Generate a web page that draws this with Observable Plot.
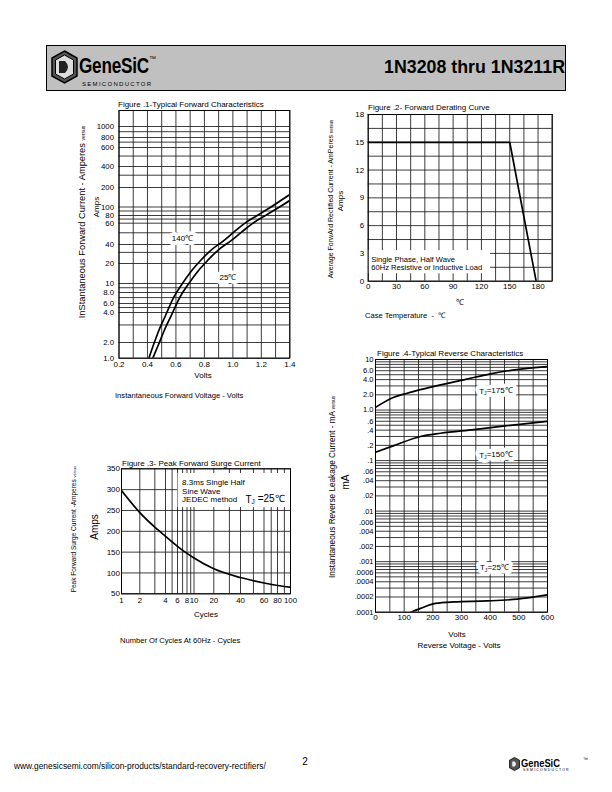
<!DOCTYPE html>
<html><head><meta charset="utf-8">
<script src="https://cdn.jsdelivr.net/npm/d3@7"></script>
<script src="https://cdn.jsdelivr.net/npm/@observablehq/plot@0.6"></script>
<style>
body{margin:0;background:#fff;font-family:"Liberation Sans",Arial,sans-serif;color:#000}
#page{position:relative;width:612px;height:792px;overflow:hidden}
.t{position:absolute;white-space:nowrap;line-height:1;transform:translateY(-50%)}
.c{position:absolute;white-space:nowrap;line-height:1;transform:translate(-50%,-50%)}
.r{position:absolute;white-space:nowrap;line-height:1;transform:translate(-50%,-50%) rotate(-90deg)}
</style></head>
<body><div id="page">
  <div style="position:absolute;left:46px;top:45px;width:518px;height:44px;background:#c0c0c0;border:1.5px solid #000"></div>
  <svg style="position:absolute;left:51px;top:50px" width="27" height="34" viewBox="0 0 27 34">
    <polygon points="13.5,1 26,8 26,26 13.5,33 1,26 1,8" fill="#555" stroke="#000" stroke-width="1.5"/>
    <polygon points="13.5,5 22.5,10 22.5,24 13.5,29 4.5,24 4.5,10" fill="#ddd" stroke="#000" stroke-width="1"/>
    <path d="M8,11 L14,11 Q20,17 14,23 L8,23 Z" fill="#222"/>
  </svg>
  <div class="t" style="left:79px;top:66px;font-weight:bold;font-size:22px;transform:translateY(-50%) scaleX(0.78);transform-origin:left center;letter-spacing:-0.3px">GeneSiC</div>
  <div class="t" style="left:149px;top:58px;font-size:7px">™</div>
  <div class="t" style="left:82px;top:84px;font-size:6px;letter-spacing:1.3px">SEMICONDUCTOR</div>
  <div class="t" style="right:47px;top:68px;font-weight:bold;font-size:17.8px">1N3208 thru 1N3211R</div>

  <div class="t" style="left:118px;top:105px;font-size:8px">Figure .1-Typical Forward Characteristics</div>
  <div class="r" style="left:83px;top:222px;font-size:9.3px">InStantaneous Forward Current - Amperes <span style="font-size:5px">versus</span></div>
  <div class="r" style="left:96.5px;top:207px;font-size:8px">Amps</div>
  <div class="c" style="left:203px;top:376px;font-size:8px">Volts</div>
  <div class="t" style="left:115px;top:396px;font-size:7.6px">Instantaneous Forward Voltage - Volts</div>

  <div class="t" style="left:368px;top:108px;font-size:8px">Figure .2- Forward Derating Curve</div>
  <div class="r" style="left:331px;top:199px;font-size:7px">Average ForwArd Rectified Current - AmPeres <span style="font-size:4.5px">versus</span></div>
  <div class="r" style="left:341px;top:201px;font-size:8px">Amps</div>
  <div class="c" style="left:460px;top:303px;font-size:8px">℃</div>
  <div class="t" style="left:365px;top:316px;font-size:7.6px">Case Temperature&nbsp; -&nbsp; ℃</div>

  <div class="t" style="left:122px;top:464px;font-size:8px">Figure .3- Peak Forward Surge Current</div>
  <div class="r" style="left:74px;top:529px;font-size:6.5px">Peak Forward Surge Current -Amperes <span style="font-size:4px">versus</span></div>
  <div class="r" style="left:95px;top:527px;font-size:10px">Amps</div>
  <div class="c" style="left:206px;top:615px;font-size:8px">Cycles</div>
  <div class="t" style="left:120px;top:641px;font-size:7.6px">Number Of Cycles At 60Hz - Cycles</div>

  <div class="t" style="left:377px;top:354px;font-size:8px">Figure .4-Typical Reverse Characteristics</div>
  <div class="r" style="left:333px;top:487px;font-size:8.2px">Instantaneous Reverse Leakage Current - mA <span style="font-size:4.5px">versus</span></div>
  <div class="r" style="left:346px;top:482px;font-size:10px">mA</div>
  <div class="c" style="left:457px;top:635px;font-size:8px">Volts</div>
  <div class="c" style="left:459px;top:646px;font-size:8px">Reverse Voltage - Volts</div>

  <div class="t" style="left:14px;top:766px;font-size:8.4px">www.genesicsemi.com/silicon-products/standard-recovery-rectifiers/</div>
  <div class="c" style="left:305px;top:762px;font-size:10px">2</div>
  <svg style="position:absolute;left:509px;top:757px" width="11" height="14" viewBox="0 0 27 34">
    <polygon points="13.5,1 26,8 26,26 13.5,33 1,26 1,8" fill="#555" stroke="#000" stroke-width="2"/>
    <path d="M8,11 L14,11 Q20,17 14,23 L8,23 Z" fill="#eee"/>
  </svg>
  <div class="t" style="left:521px;top:763px;font-weight:bold;font-size:11px;transform:translateY(-50%) scaleX(0.85);transform-origin:left center">GeneSiC</div>
  <div class="t" style="left:583px;top:759px;font-size:5px">™</div>
  <div class="t" style="left:523px;top:771px;font-size:3.5px;letter-spacing:1.2px">SEMICONDUCTOR</div>
</div>
<script>
const FONT = "Liberation Sans, Arial, sans-serif";
const page = document.getElementById("page");

// ---------- Figure 1: Typical Forward Characteristics ----------
const fwdV140 = [0.41, 0.445, 0.48, 0.527, 0.585, 0.644, 0.702, 0.773, 0.843, 0.936, 1.007, 1.078, 1.171, 1.265, 1.40];
const fwdI140 = [1.0, 1.89, 2.64, 3.73, 7.07, 9.93, 14.8, 22.3, 32.1, 43.1, 50.6, 59.3, 80, 99.5, 156];
const fwdV25 = [0.4375, 0.48, 0.518, 0.567, 0.628, 0.689, 0.749, 0.822, 0.893, 0.988, 1.061, 1.134, 1.229, 1.325, 1.40];
const fwdI25 = [1.0, 1.89, 2.64, 3.73, 7.07, 9.93, 14.8, 22.3, 32.1, 43.1, 50.6, 59.3, 80, 99.5, 126];
const fig1VoltTicks = [0.2, 0.4, 0.6, 0.8, 1.0, 1.2, 1.4];
const fig1AmpTicks = [1, 2, 4, 6, 8, 10, 20, 40, 60, 80, 100, 200, 400, 600, 800, 1000];
const fig1AmpLabels = ["1.0", "2.0", "4.0", "6.0", "8.0", "10", "20", "40", "60", "80", "100", "200", "400", "600", "800", "1000"];
const fig1NoteText = ["140℃", "25℃"];
const fig1NoteV = [0.646, 0.966];
const fig1NoteI = [44.9, 12.4];

// ---------- Figure 2: Forward Derating Curve ----------
const derateTemp = [0, 150, 178];
const derateAmps = [15, 15, 0];
const fig2TempTicks = [0, 30, 60, 90, 120, 150, 180];
const fig2AmpTicks = [0, 3, 6, 9, 12, 15, 18];
const fig2NoteText = ["Single Phase, Half Wave\n60Hz Resistive or Inductive Load"];
const fig2NoteBox = {x1: 0, x2: 129.6, y1: 0.8, y2: 3.3};
const fig2NoteT = [3.2];
const fig2NoteA = [1.88];

// ---------- Figure 3: Peak Forward Surge Current ----------
const surgeCycles = [1, 2, 3, 4, 6, 8, 10, 20, 40, 60, 80, 100];
const surgeAmps = [298, 245, 210, 188, 164, 147, 136, 110, 89, 76, 70, 66];
const fig3CycleTicks = [1, 2, 4, 6, 8, 10, 20, 40, 60, 80, 100];
const fig3AmpTicks = [50, 100, 150, 200, 250, 300, 350];
const fig3NoteText = ["8.3ms Single Half", "Sine Wave", "JEDEC method"];
const fig3NoteC = [6.9, 6.9, 6.9];
const fig3NoteA = [317, 296, 275.6];
const fig3TjText = ["TJ =25℃"];
const fig3TjC = [43.6];
const fig3TjA = [276];
const fig3NoteBox = {x1: 6.1, x2: 100, y1: 257, y2: 338.7};

// ---------- Figure 4: Typical Reverse Characteristics ----------
const revV175 = [0, 64, 110, 169, 227, 308, 401, 494, 600];
const revI175 = [1.13, 1.79, 2.15, 2.63, 3.15, 3.96, 5.2, 6.34, 7.27];
const revV150 = [0, 64, 157, 227, 343, 459, 600];
const revI150 = [0.146, 0.198, 0.30, 0.347, 0.41, 0.49, 0.6];
const revV25 = [124, 157, 209, 273, 390, 494, 600];
const revI25 = [0.0001, 0.000119, 0.000149, 0.00016, 0.000167, 0.000181, 0.00022];
const fig4VoltTicks = [0, 100, 200, 300, 400, 500, 600];
const fig4AmpTicks = [10, 6, 4, 2, 1, 0.6, 0.4, 0.2, 0.1, 0.06, 0.04, 0.02, 0.01, 0.006, 0.004, 0.002, 0.001, 0.0006, 0.0004, 0.0002, 0.0001];
const fig4AmpLabels = ["10", "6.0", "4.0", "2.0", "1.0", ".6", ".4", ".2", ".1", ".06", ".04", ".02", ".01", ".006", ".004", ".002", ".001", ".0006", ".0004", ".0002", ".0001"];
const fig4NoteText = ["TJ=175℃", "TJ=150℃", "TJ=25℃"];
const fig4NoteV = [420, 420, 415];
const fig4NoteI = [2.33, 0.126, 0.000755];

// helpers
const pts = (xs, ys) => xs.map((x, i) => ({x, y: ys[i]}));
const logGrid = (lo, hi) => { const out = []; for (let b = lo; b < hi * 0.999; b *= 10) for (let k = 1; k < 10; k++) out.push(k * b); out.push(hi); return out; };
const GRID = {stroke: "#1a1a1a", strokeWidth: 0.85};
const LINE = {x: "x", y: "y", stroke: "#000", strokeWidth: 1.7, curve: "monotone-x", clip: true};
const style = {fontFamily: FONT, fontSize: "8px", color: "#000", background: "transparent", overflow: "visible"};
const haloText = (data, opts) => [
  Plot.text(data, {...opts, fill: "#fff", stroke: "#fff", strokeWidth: 8}),
  Plot.text(data, {...opts, fill: "#000"})
];
function mount(svg, left, top) {
  const d = document.createElement("div");
  d.style.cssText = `position:absolute;left:${left}px;top:${top}px`;
  d.append(svg); page.append(d);
  d3.select(svg).selectAll("text").each(function () {
    const t = this.textContent;
    if (this.childElementCount === 0 && t.startsWith("TJ")) {
      const s = d3.select(this); s.text(null);
      s.append("tspan").text("T");
      s.append("tspan").attr("font-size", "0.65em").attr("dy", "0.25em").text("J");
      s.append("tspan").attr("dy", "-0.25em").text(t.slice(2));
    }
  });
}

// Figure 1 (the printed current axis is unevenly spaced: piecewise log scale through its labelled values)
mount(Plot.plot({
  width: 240, height: 290, marginLeft: 58.5, marginRight: 10.7, marginTop: 15, marginBottom: 27.3, style,
  x: {domain: [0.2, 1.4], axis: null},
  y: {type: "log", domain: fig1AmpTicks.concat([1500]),
      range: [262.7, 247, 217, 208, 197, 188, 168, 149, 127.7, 120, 111.5, 92, 71, 52, 42, 31, 15], axis: null},
  marks: [
    Plot.ruleX(d3.range(2, 15).map(k => k / 10), GRID),
    Plot.ruleY(logGrid(1, 1000), GRID),
    Plot.line(pts(fwdV140, fwdI140), LINE),
    Plot.line(pts(fwdV25, fwdI25), LINE),
    ...haloText(pts(fig1NoteV, fig1NoteI), {x: "x", y: "y", text: (d, i) => fig1NoteText[i], fontSize: 8}),
    Plot.frame({stroke: "#000", strokeWidth: 1}),
    Plot.text(fig1VoltTicks, {x: d => d, text: d => d.toFixed(1), frameAnchor: "bottom", lineAnchor: "top", dy: 3, fontSize: 8}),
    Plot.text(fig1AmpTicks, {y: d => d, text: (d, i) => fig1AmpLabels[i], frameAnchor: "left", textAnchor: "end", dx: -5, fontSize: 7.8})
  ]
}), 60, 95);

// Figure 2
mount(Plot.plot({
  width: 240, height: 200, marginLeft: 47.7, marginRight: 8.3, marginTop: 19, marginBottom: 14.3, style,
  x: {domain: [0, 195], axis: null},
  y: {domain: [0, 18], axis: null},
  marks: [
    Plot.ruleX(d3.range(0, 196, 15), GRID),
    Plot.ruleY(d3.range(0, 18.1, 1.5), GRID),
    Plot.rect([fig2NoteBox], {x1: "x1", x2: "x2", y1: "y1", y2: "y2", fill: "#fff"}),
    Plot.text(pts(fig2NoteT, fig2NoteA), {x: "x", y: "y", text: (d, i) => fig2NoteText[i], textAnchor: "start", fontSize: 7.6, lineHeight: 1.07, fill: "#000"}),
    Plot.line(pts(derateTemp, derateAmps), {...LINE, curve: "linear"}),
    Plot.frame({stroke: "#000", strokeWidth: 1}),
    Plot.text(fig2TempTicks, {x: d => d, text: d => String(d), frameAnchor: "bottom", lineAnchor: "top", dy: 2, fontSize: 8}),
    Plot.text(fig2AmpTicks, {y: d => d, text: d => String(d), frameAnchor: "left", textAnchor: "end", dx: -4, fontSize: 8})
  ]
}), 320, 95);

// Figure 3 (the printed cycle axis is unevenly spaced: piecewise log scale through its labelled cycles)
mount(Plot.plot({
  width: 240, height: 160, marginLeft: 61, marginRight: 10, marginTop: 18.3, marginBottom: 16.7, style,
  x: {type: "log", domain: fig3CycleTicks, range: [61, 79.3, 105, 117, 126.5, 133.5, 153.3, 180, 203.5, 217, 230], axis: null},
  y: {domain: [50, 350], axis: null},
  marks: [
    Plot.ruleX(d3.range(1, 10).concat(d3.range(10, 101, 10)), GRID),
    Plot.ruleY(d3.range(50, 351, 50), GRID),
    Plot.rect([fig3NoteBox], {x1: "x1", x2: "x2", y1: "y1", y2: "y2", fill: "#fff"}),
    Plot.text(pts(fig3NoteC, fig3NoteA), {x: "x", y: "y", text: (d, i) => fig3NoteText[i], textAnchor: "start", fontSize: 8, fill: "#000"}),
    Plot.text(pts(fig3TjC, fig3TjA), {x: "x", y: "y", text: (d, i) => fig3TjText[i], textAnchor: "start", fontSize: 10, fill: "#000"}),
    Plot.line(pts(surgeCycles, surgeAmps), LINE),
    Plot.frame({stroke: "#000", strokeWidth: 1}),
    Plot.text(fig3CycleTicks, {x: d => d, text: d => String(d), frameAnchor: "bottom", lineAnchor: "top", dy: 4, fontSize: 7.8}),
    Plot.text(fig3AmpTicks, {y: d => d, text: d => String(d), frameAnchor: "left", textAnchor: "end", dx: -1.5, fontSize: 8})
  ]
}), 60, 450);

// Figure 4
mount(Plot.plot({
  width: 240, height: 280, marginLeft: 55, marginRight: 13, marginTop: 14, marginBottom: 13.3, style,
  x: {domain: [0, 600], axis: null},
  y: {type: "log", domain: [0.0001, 10], axis: null},
  marks: [
    Plot.ruleX(d3.range(0, 601, 50), GRID),
    Plot.ruleY(logGrid(0.0001, 10), GRID),
    Plot.line(pts(revV175, revI175), LINE),
    Plot.line(pts(revV150, revI150), LINE),
    Plot.line(pts(revV25, revI25), LINE),
    ...haloText(pts(fig4NoteV, fig4NoteI), {x: "x", y: "y", text: (d, i) => fig4NoteText[i], fontSize: 8}),
    Plot.frame({stroke: "#000", strokeWidth: 1}),
    Plot.text(fig4VoltTicks, {x: d => d, text: d => String(d), frameAnchor: "bottom", lineAnchor: "top", dy: 2, fontSize: 8}),
    Plot.text(fig4AmpTicks, {y: d => d, text: (d, i) => fig4AmpLabels[i], frameAnchor: "left", textAnchor: "end", dx: -2, fontSize: 7.5})
  ]
}), 320, 345);
</script>
</body></html>
